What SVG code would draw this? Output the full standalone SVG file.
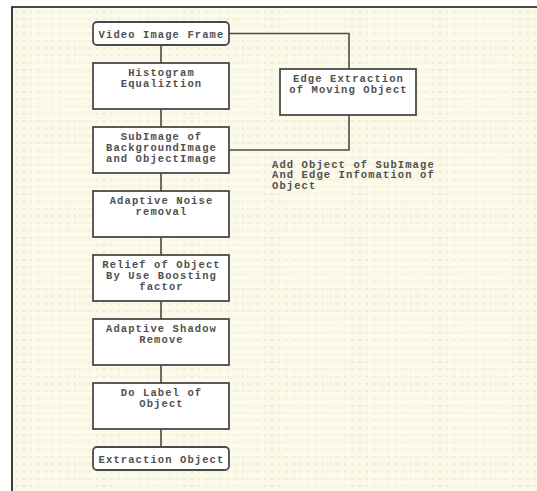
<svg xmlns="http://www.w3.org/2000/svg" width="537" height="491" viewBox="0 0 537 491">
<defs>
<pattern id="grid" x="13" y="8" width="7.3" height="7.3" patternUnits="userSpaceOnUse">
<rect x="3" y="3" width="1.2" height="1.2" fill="#d3cfb8"/>
<rect x="0" y="3" width="0.8" height="0.8" fill="#e6e3d0"/>
</pattern>
<style>
.box{fill:#ffffff;stroke:#4a4a4a;stroke-width:1.8}
.conn{fill:none;stroke:#4a4a4a;stroke-width:1.6}
.t{font-family:"Liberation Mono","Courier New",monospace;font-size:10.5px;letter-spacing:1.1px;font-weight:bold;fill:#505050;text-anchor:middle}
.l{font-family:"Liberation Mono","Courier New",monospace;font-size:10.5px;letter-spacing:1.1px;font-weight:bold;fill:#505050}
</style>
</defs>
<rect x="0" y="0" width="537" height="491" fill="#ffffff"/>
<rect x="12" y="7" width="525" height="484" fill="#fbfae8"/>
<rect x="12" y="7" width="525" height="484" fill="url(#grid)"/>
<path d="M12 491 V7 H537" fill="none" stroke="#111" stroke-width="1.6"/>
<g id="connectors">
<path class="conn" d="M161 45 V63 M161 109 V127 M161 173 V191 M161 237 V255 M161 301 V319 M161 365 V383 M161 429 V447"/>
<path class="conn" d="M229 33.5 H349 V150 H229"/>
</g>
<g id="n1"><rect class="box" x="93" y="22" width="136" height="23" rx="4"/><text class="t" x="161.5" y="37.5">Video Image Frame</text></g>
<g id="n2"><rect class="box" x="93" y="63" width="136" height="46"/><text class="t" x="161.5" y="76">Histogram</text><text class="t" x="161.5" y="87">Equaliztion</text></g>
<g id="n3"><rect class="box" x="93" y="127" width="136" height="46"/><text class="t" x="161.5" y="139.5">SubImage of</text><text class="t" x="161.5" y="150.5">BackgroundImage</text><text class="t" x="161.5" y="162">and ObjectImage</text></g>
<g id="n4"><rect class="box" x="93" y="191" width="136" height="46"/><text class="t" x="161.5" y="204">Adaptive Noise</text><text class="t" x="161.5" y="215">removal</text></g>
<g id="n5"><rect class="box" x="93" y="255" width="136" height="46"/><text class="t" x="161.5" y="268">Relief of Object</text><text class="t" x="161.5" y="279">By Use Boosting</text><text class="t" x="161.5" y="290">factor</text></g>
<g id="n6"><rect class="box" x="93" y="319" width="136" height="46"/><text class="t" x="161.5" y="332">Adaptive Shadow</text><text class="t" x="161.5" y="343">Remove</text></g>
<g id="n7"><rect class="box" x="93" y="383" width="136" height="46"/><text class="t" x="161.5" y="396">Do Label of</text><text class="t" x="161.5" y="407">Object</text></g>
<g id="n8"><rect class="box" x="93" y="447" width="136" height="23" rx="4"/><text class="t" x="161.5" y="463">Extraction Object</text></g>
<g id="n9"><rect class="box" x="280" y="69" width="136" height="46"/><text class="t" x="348.5" y="81.5">Edge Extraction</text><text class="t" x="348.5" y="92.5">of Moving Object</text></g>
<g id="label"><text class="l" x="272" y="167.5">Add Object of SubImage</text><text class="l" x="272" y="178">And Edge Infomation of</text><text class="l" x="272" y="188.5">Object</text></g>
</svg>
